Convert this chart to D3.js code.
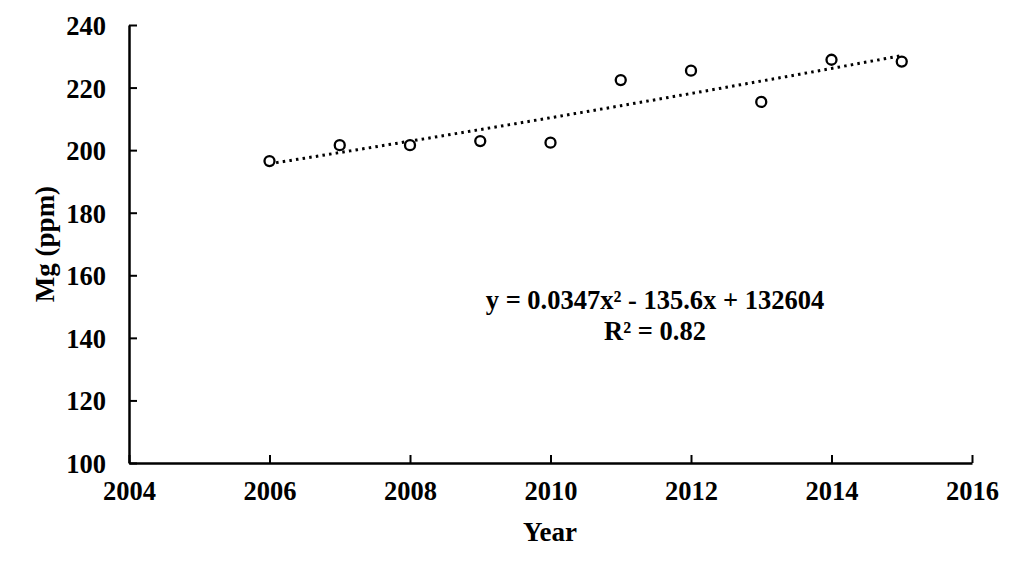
<!DOCTYPE html>
<html><head><meta charset="utf-8">
<script src="https://cdn.jsdelivr.net/npm/d3@7"></script>
<style>body{margin:0;background:#fff}svg{display:block}text{font-family:"Liberation Serif","Times New Roman",serif;font-weight:bold;fill:#000}</style>
</head><body>
<script>
const years = [2006,2007,2008,2009,2010,2011,2012,2013,2014,2015];
const mg = [196.5,201.6,201.6,202.9,202.4,222.4,225.4,215.4,228.9,228.3];
const xTicks = [2004,2006,2008,2010,2012,2014,2016];
const yTicks = [100,120,140,160,180,200,220,240];
const eqLines = ["y = 0.0347x² - 135.6x + 132604","R² = 0.82"];

const W=1024,H=575;
const svg=d3.select("body").append("svg").attr("width",W).attr("height",H);
const x=d3.scaleLinear().domain([2004,2016]).range([129,972]);
const y=d3.scaleLinear().domain([100,240]).range([463,25]);

// least-squares quadratic fit (centered x)
function fitQuad(xs,ys){
  const xm=d3.mean(xs);
  let S=[0,0,0,0,0],T=[0,0,0];
  xs.forEach((xv,i)=>{const t=xv-xm;for(let k=0;k<5;k++)S[k]+=Math.pow(t,k);for(let k=0;k<3;k++)T[k]+=ys[i]*Math.pow(t,k);});
  const A=[[S[0],S[1],S[2]],[S[1],S[2],S[3]],[S[2],S[3],S[4]]];
  const det=m=>m[0][0]*(m[1][1]*m[2][2]-m[1][2]*m[2][1])-m[0][1]*(m[1][0]*m[2][2]-m[1][2]*m[2][0])+m[0][2]*(m[1][0]*m[2][1]-m[1][1]*m[2][0]);
  const D=det(A);
  const c=[0,1,2].map(j=>{const M=A.map((r,i)=>r.map((v,k)=>k===j?T[i]:v));return det(M)/D;});
  return xv=>{const t=xv-xm;return c[0]+c[1]*t+c[2]*t*t;};
}
const f=fitQuad(years,mg);
const trend=d3.range(2006,2015.001,0.05).map(v=>[v,f(v)]);
svg.append("path").datum(trend)
  .attr("d",d3.line().x(d=>x(d[0])).y(d=>y(d[1])))
  .attr("fill","none").attr("stroke","#000").attr("stroke-width",3)
  .attr("stroke-dasharray","2.5 4.2");

const xAxis=svg.append("g").attr("transform","translate(0,463)")
  .call(d3.axisBottom(x).tickValues(xTicks).tickFormat(d3.format("d")).tickSizeInner(-8).tickSizeOuter(0).tickPadding(18));
const yAxis=svg.append("g").attr("transform","translate(129,0)")
  .call(d3.axisLeft(y).tickValues(yTicks).tickSizeInner(-8).tickSizeOuter(0).tickPadding(23));
[xAxis,yAxis].forEach(g=>{
  g.select(".domain").attr("stroke","#000").attr("stroke-width",2.5);
  g.selectAll(".tick line").attr("stroke","#000").attr("stroke-width",2);
  g.selectAll("text").style("font-size","26.5px").style("font-family","Liberation Serif").style("font-weight","bold").attr("fill","#000");
});
yAxis.selectAll("text").attr("dy","0.36em");

svg.append("g").selectAll("circle").data(years).join("circle")
  .attr("cx",(d)=>x(d)).attr("cy",(d,i)=>y(mg[i])).attr("r",5)
  .attr("fill","#fff").attr("stroke","#000").attr("stroke-width",2.3);

svg.append("text").attr("x",550).attr("y",541).attr("text-anchor","middle").style("font-size","27px").text("Year");
svg.append("text").attr("transform","translate(54,244) rotate(-90)").attr("text-anchor","middle").style("font-size","27px").text("Mg (ppm)");
svg.append("g").selectAll("text").data(eqLines).join("text")
  .attr("x",655).attr("y",(d,i)=>309+i*31).attr("text-anchor","middle").style("font-size","26.5px").text(d=>d);
</script>
</body></html>
